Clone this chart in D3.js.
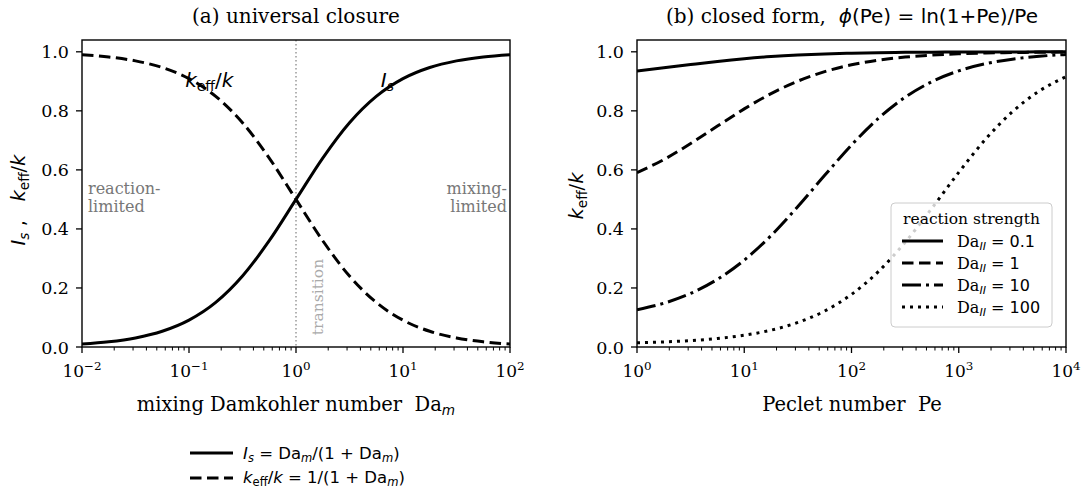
<!DOCTYPE html>
<html><head><meta charset="utf-8">
<script src="https://cdn.jsdelivr.net/npm/d3@7"></script>
<style>
html,body{margin:0;padding:0;background:#fff;}
svg text{white-space:pre;}
</style></head>
<body><svg id="c" width="1082" height="488"></svg>
<script>
// ---------- data ----------
const DA_M = [0.01, 0.01778, 0.03162, 0.05623, 0.1, 0.1778, 0.3162, 0.5623, 1, 1.778, 3.162, 5.623, 10, 17.78, 31.62, 56.23, 100];
const IS_VALUES = [0.0099, 0.0175, 0.0307, 0.0532, 0.0909, 0.1509, 0.2403, 0.3600, 0.5000, 0.6400, 0.7597, 0.8490, 0.9091, 0.9468, 0.9693, 0.9826, 0.9901];
const KEFF_VALUES = [0.9901, 0.9825, 0.9693, 0.9468, 0.9091, 0.8491, 0.7597, 0.6400, 0.5000, 0.3600, 0.2403, 0.1510, 0.0909, 0.0532, 0.0307, 0.0174, 0.0099];

const PE = [1, 1.778, 3.162, 5.623, 10, 17.78, 31.62, 56.23, 100, 177.8, 316.2, 562.3, 1000, 1778, 3162, 5623, 10000];
const KEFF_DA_0_1 = [0.9352, 0.9457, 0.9568, 0.9675, 0.9766, 0.9838, 0.9891, 0.9929, 0.9954, 0.9971, 0.9982, 0.9989, 0.9993, 0.9996, 0.9997, 0.9998, 0.9999];
const KEFF_DA_1 = [0.5906, 0.6350, 0.6892, 0.7484, 0.8066, 0.8584, 0.9007, 0.9329, 0.9559, 0.9717, 0.9821, 0.9889, 0.9931, 0.9958, 0.9975, 0.9985, 0.9991];
const KEFF_DA_10 = [0.1261, 0.1482, 0.1815, 0.2293, 0.2943, 0.3774, 0.4757, 0.5815, 0.6842, 0.7742, 0.8460, 0.8988, 0.9354, 0.9596, 0.9751, 0.9849, 0.9909];
const KEFF_DA_100 = [0.0142, 0.0171, 0.0217, 0.0289, 0.0400, 0.0571, 0.0832, 0.1220, 0.1781, 0.2553, 0.3545, 0.4703, 0.5914, 0.7038, 0.7969, 0.8669, 0.9157];
const DA_II_LABELS = ["0.1", "1", "10", "100"];

const Y_TICKS = [0, 0.2, 0.4, 0.6, 0.8, 1.0];
const X_TICKS_A = [0.01, 0.1, 1, 10, 100];
const X_EXP_A = ["\u22122", "\u22121", "0", "1", "2"];
const X_TICKS_B = [1, 10, 100, 1000, 10000];
const X_EXP_B = ["0", "1", "2", "3", "4"];

// ---------- helpers ----------
const svg = d3.select("#c");
function rich(g, x, y, parts, size, anchor) {
  const t = g.append("text").attr("x", x).attr("y", y).attr("font-size", size)
    .attr("text-anchor", anchor || "start").attr("fill", "#000");
  let shift = 0;
  parts.forEach(([txt, kind]) => {
    const sub = kind[0] === "_", sup = kind[0] === "^";
    const k = kind.replace(/^[_^]/, "");
    const s = t.append("tspan").text(txt)
      .attr("font-family", k === "S" ? "DejaVu Serif" : "DejaVu Sans");
    if (k === "I") s.attr("font-style", "italic");
    const target = sub ? size * 0.2 : sup ? -size * 0.42 : 0;
    if (target - shift !== 0) s.attr("dy", target - shift);
    shift = target;
    if (sub || sup) s.attr("font-size", size * 0.7);
  });
  return t;
}

const TOP = 40, BOT = 347;
const y = d3.scaleLinear().domain([0, 1.04]).range([BOT, TOP]);

function panel(x0, x1, domain, xticks, xexp, clipId) {
  const x = d3.scaleLog().domain(domain).range([x0, x1]);
  const g = svg.append("g");
  g.append("clipPath").attr("id", clipId).append("rect")
    .attr("x", x0).attr("y", TOP).attr("width", x1 - x0).attr("height", BOT - TOP);
  const minors = [];
  for (let e = Math.log10(domain[0]); e < Math.log10(domain[1]); e++)
    for (let m = 2; m <= 9; m++) minors.push(m * Math.pow(10, e));
  g.selectAll(null).data(minors).enter().append("line")
    .attr("x1", d => x(d)).attr("x2", d => x(d)).attr("y1", BOT).attr("y2", BOT + 3.5)
    .attr("stroke", "#000").attr("stroke-width", 1);
  g.selectAll(null).data(xticks).enter().append("line")
    .attr("x1", d => x(d)).attr("x2", d => x(d)).attr("y1", BOT).attr("y2", BOT + 6)
    .attr("stroke", "#000").attr("stroke-width", 1.3);
  xticks.forEach((d, i) => {
    rich(g, x(d), 377, [["10", "S"], [xexp[i], "^S"]], 17, "middle");
  });
  g.selectAll(null).data(Y_TICKS).enter().append("line")
    .attr("x1", x0 - 6).attr("x2", x0).attr("y1", d => y(d)).attr("y2", d => y(d))
    .attr("stroke", "#000").attr("stroke-width", 1.3);
  g.selectAll(null).data(Y_TICKS).enter().append("text")
    .attr("x", x0 - 13).attr("y", d => y(d) + 6.5).attr("text-anchor", "end")
    .attr("font-family", "DejaVu Serif").attr("font-size", 17.5)
    .text(d => d.toFixed(1));
  return { g, x };
}
function frame(g, x0, x1) {
  g.append("rect").attr("x", x0).attr("y", TOP).attr("width", x1 - x0).attr("height", BOT - TOP)
    .attr("fill", "none").attr("stroke", "#000").attr("stroke-width", 1.4);
}
function curve(g, x, xs, ys, dash, clipId) {
  const line = d3.line().x((d, i) => x(xs[i])).y(d => y(d)).curve(d3.curveMonotoneX);
  g.append("path").attr("d", line(ys)).attr("fill", "none").attr("stroke", "#000")
    .attr("stroke-width", 3).attr("stroke-dasharray", dash).attr("clip-path", `url(#${clipId})`);
}

// ---------- panel (a) ----------
const A = panel(82, 510, [0.01, 100], X_TICKS_A, X_EXP_A, "clipA");
A.g.append("line").attr("x1", A.x(1)).attr("x2", A.x(1)).attr("y1", TOP).attr("y2", BOT)
  .attr("stroke", "#999").attr("stroke-width", 1.5).attr("stroke-dasharray", "1.5,2.5");
curve(A.g, A.x, DA_M, IS_VALUES, null, "clipA");
curve(A.g, A.x, DA_M, KEFF_VALUES, "11.5,5.5", "clipA");
frame(A.g, 82, 510);
rich(A.g, A.x(0.092), 87, [["k", "I"], ["eff", "_N"], ["/", "N"], ["k", "I"]], 20, "start");
rich(A.g, A.x(6.2), 87, [["I", "I"], ["s", "_I"]], 20, "start");
A.g.append("text").attr("x", 88).attr("y", 194).attr("font-family", "DejaVu Serif").attr("font-size", 16)
  .attr("fill", "#777").text("reaction-");
A.g.append("text").attr("x", 88).attr("y", 212).attr("font-family", "DejaVu Serif").attr("font-size", 16)
  .attr("fill", "#777").text("limited");
A.g.append("text").attr("x", 507).attr("y", 194).attr("text-anchor", "end").attr("font-family", "DejaVu Serif").attr("font-size", 16)
  .attr("fill", "#777").text("mixing-");
A.g.append("text").attr("x", 507).attr("y", 212).attr("text-anchor", "end").attr("font-family", "DejaVu Serif").attr("font-size", 16)
  .attr("fill", "#777").text("limited");
A.g.append("text").attr("transform", "translate(323,297) rotate(-90)").attr("text-anchor", "middle")
  .attr("font-family", "DejaVu Serif").attr("font-size", 15.5).attr("fill", "#aaa").text("transition");
rich(A.g, 296, 23, [["(a) universal closure", "S"]], 20, "middle");
rich(A.g, 296, 411, [["mixing Damkohler number  Da", "S"], ["m", "_I"]], 19.5, "middle");
{
  const t = rich(A.g, 0, 0, [["I", "I"], ["s", "_I"], [" ,   ", "N"], ["k", "I"], ["eff", "_N"], ["/", "N"], ["k", "I"]], 19.5, "middle");
  t.attr("transform", "translate(25,200) rotate(-90)");
}

// ---------- panel (b) ----------
const B = panel(637, 1066, [1, 10000], X_TICKS_B, X_EXP_B, "clipB");
const DASHES = [null, "11.5,5.5", "19,5,3,5", "3,5"];
[KEFF_DA_0_1, KEFF_DA_1, KEFF_DA_10, KEFF_DA_100].forEach((ys, i) => curve(B.g, B.x, PE, ys, DASHES[i], "clipB"));
frame(B.g, 637, 1066);
rich(B.g, 852, 23, [["(b) closed form,  ", "S"], ["\u03d5", "I"], ["(Pe) = ln(1+Pe)/Pe", "N"]], 20, "middle");
rich(B.g, 852, 411, [["Peclet number  Pe", "S"]], 19.5, "middle");
{
  const t = rich(B.g, 0, 0, [["k", "I"], ["eff", "_N"], ["/", "N"], ["k", "I"]], 19.5, "middle");
  t.attr("transform", "translate(583,196) rotate(-90)");
}
// legend (b)
const L = B.g.append("g");
L.append("rect").attr("x", 891).attr("y", 203).attr("width", 161).attr("height", 124).attr("rx", 4)
  .attr("fill", "#fff").attr("fill-opacity", 0.8).attr("stroke", "#ccc").attr("stroke-width", 1);
rich(L, 971.5, 224, [["reaction strength", "S"]], 15.5, "middle");
DA_II_LABELS.forEach((lab, i) => {
  const yy = 241 + i * 22;
  L.append("line").attr("x1", 902).attr("x2", 943).attr("y1", yy).attr("y2", yy)
    .attr("stroke", "#000").attr("stroke-width", 3).attr("stroke-dasharray", DASHES[i]);
  rich(L, 957, yy + 6, [["Da", "S"], ["II", "_I"], [" = " + lab, "N"]], 16, "start");
});

// ---------- bottom legend ----------
const BL = svg.append("g");
BL.append("line").attr("x1", 190).attr("x2", 233).attr("y1", 453).attr("y2", 453).attr("stroke", "#000").attr("stroke-width", 3);
BL.append("line").attr("x1", 190).attr("x2", 233).attr("y1", 478).attr("y2", 478).attr("stroke", "#000").attr("stroke-width", 3).attr("stroke-dasharray", "11.5,5.5");
rich(BL, 243, 459, [["I", "I"], ["s", "_I"], [" = Da", "N"], ["m", "_I"], ["/(1 + Da", "N"], ["m", "_I"], [")", "N"]], 16.5, "start");
rich(BL, 243, 483, [["k", "I"], ["eff", "_N"], ["/", "N"], ["k", "I"], [" = 1/(1 + Da", "N"], ["m", "_I"], [")", "N"]], 16.5, "start");
</script></body></html>
